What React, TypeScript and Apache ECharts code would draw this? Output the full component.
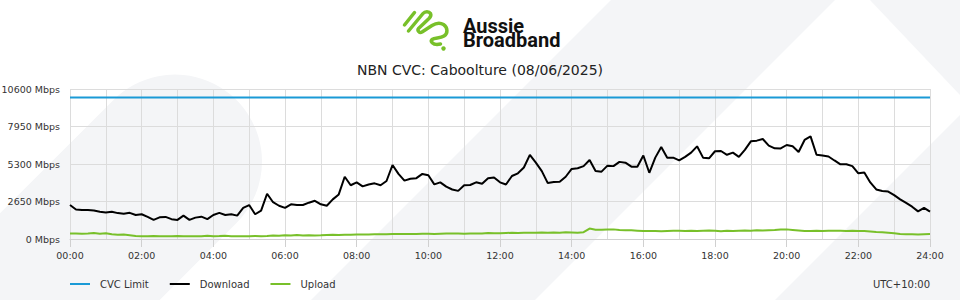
import React, { useEffect, useRef } from "react";
import * as echarts from "echarts";

// Time step between samples: 10 minutes, starting at 00:00
const STEP_MINUTES = 10;

const download: number[] = [
  2400, 2080, 2050, 2050, 2010, 1930, 1880, 1930, 1830, 1780, 1850, 1700, 1750, 1560, 1350, 1530, 1560, 1400, 1350, 1650, 1350, 1510, 1580, 1400, 1700, 1850, 1700, 1750, 1650, 2200, 2400, 1750, 2000, 3200, 2600, 2350, 2200,
  2450, 2400, 2400, 2567, 2700, 2450, 2350, 2800, 3150, 4400, 3800, 4005, 3720, 3850, 3934, 3800, 4099, 5230, 4600, 4122, 4260, 4300, 4600, 4500, 3863, 4005, 3698, 3500, 3400, 3800, 3816, 4005, 3900, 4300, 4350, 4005,
  3850, 4450, 4641, 5050, 5950, 5400, 4800, 3950, 4030, 4051, 4400, 4950, 5000, 5150, 5583, 4800, 4758, 5183, 5150, 5450, 5394, 5112, 5100, 5900, 4680, 5750, 6500, 5748, 5748, 5550, 5800, 6100, 6550, 5750, 5700, 6200,
  6219, 5950, 6100, 5800, 6300, 6900, 6950, 7067, 6600, 6407, 6400, 6643, 6550, 6150, 7000, 7250, 5950, 5900, 5830, 5550, 5277, 5277, 5150, 4641, 4700, 4000, 3500, 3392, 3350, 3100, 2800, 2550, 2285, 1950, 2200, 1932,
];

const upload: number[] = [
  390, 380, 370, 390, 420, 370, 410, 330, 300, 310, 270, 220, 200, 200, 210, 200, 200, 200, 220, 200, 200, 200, 200, 230, 200, 210, 230, 200, 200, 200, 200, 220, 200, 210, 250, 230, 260,
  250, 280, 240, 270, 250, 260, 280, 300, 290, 300, 300, 310, 310, 320, 330, 330, 340, 360, 360, 350, 360, 360, 370, 370, 360, 370, 380, 380, 380, 370, 380, 390, 390, 430, 410, 400,
  420, 440, 430, 450, 440, 450, 460, 440, 460, 450, 470, 460, 450, 480, 740, 660, 650, 670, 680, 640, 610, 620, 590, 560, 560, 570, 540, 570, 580, 590, 560, 580, 570, 590, 600, 580,
  540, 580, 570, 590, 600, 590, 610, 600, 620, 640, 670, 680, 640, 600, 560, 570, 590, 570, 590, 580, 590, 570, 580, 560, 560, 530, 500, 480, 440, 400, 350, 330, 330, 310, 340, 360,
];

const cvcLimit = 10000;
const seriesNames = ["CVC Limit", "Download", "Upload"];
const yTicks = [0, 2650, 5300, 7950, 10600];
const titleText = "NBN CVC: Caboolture (08/06/2025)";
const timezoneText = "UTC+10:00";
const brandLines = ["Aussie", "Broadband"];

const FONT = "DejaVu Sans";
const BG_GRAY = "#f4f5f7";
const GREEN = "#78c02a";

function pad(n: number) {
  return n < 10 ? "0" + n : String(n);
}

let registered = false;
function registerShapes() {
  if (registered) return;
  registered = true;
  const g: any = (echarts as any).graphic;
  g.registerShape(
    "bgLeft",
    g.extendPath(
      "M113.5,100 A87,87 0 0 1 262,161.5 A87,87 0 0 1 236.5,223 L60,400 L-187,400 Z",
      {}
    )
  );
  g.registerShape("bgBand1", g.extendPath("M611,0 L835,0 L435,400 L211,400 Z", {}));
  g.registerShape("bgBand2", g.extendPath("M1075,0 L1400,0 L1000,400 L675,400 Z", {}));
  g.registerShape("bgTopRight", g.extendPath("M870,0 L960,0 L960,95 Z", {}));
  g.registerShape(
    "abbSwirl",
    g.extendPath(
      "M404.5,25 L414.5,12.5 M408.5,31 L423,13.5 C425,11 429,11 430.5,13.5 C431.5,15.5 430.5,17 429,18.5 L418.5,28.5 C417,30.5 419.5,33.5 422,32 L432,25.5 C436,23 440,22.5 443.5,24.5 C448,27.5 448,33.5 444,36 C440,38.5 435,37.5 432,39.5 C430,41.5 433,44.5 437,44.5 L440.5,44",
      {}
    )
  );
}

export default function App() {
  const ref = useRef<HTMLDivElement>(null);

  useEffect(() => {
    if (!ref.current) return;
    registerShapes();
    const chart = echarts.init(ref.current, undefined, { renderer: "svg" });

    const dlData = download.map((v, i) => [i * STEP_MINUTES, v]);
    const ulData = upload.map((v, i) => [i * STEP_MINUTES, v]);
    const lastX = (download.length - 1) * STEP_MINUTES;
    const cvcData = [
      [0, cvcLimit],
      [lastX, cvcLimit],
    ];

    const option: any = {
      animation: false,
      backgroundColor: "#ffffff",
      textStyle: { fontFamily: FONT },
      title: {
        text: titleText,
        left: "center",
        top: 58,
        textStyle: { fontFamily: FONT, fontSize: 14, fontWeight: "normal", color: "#222" },
      },
      grid: { left: 70, right: 30, top: 89, bottom: 61, containLabel: false, outerBoundsMode: "none" },
      xAxis: {
        type: "value",
        min: 0,
        max: 1440,
        interval: 120,
        axisLine: { show: true, lineStyle: { color: "#d0d0d0", width: 1 } },
        axisTick: { show: true, length: 8, lineStyle: { color: "#d0d0d0" } },
        minorTick: { show: false, splitNumber: 2 },
        minorSplitLine: { show: true, lineStyle: { color: "#dcdcdc", width: 1 } },
        splitLine: { show: true, lineStyle: { color: "#dcdcdc", width: 1 } },
        axisLabel: {
          fontFamily: FONT,
          fontSize: 9.5,
          color: "#333",
          margin: 11,
          formatter: (v: number) => pad(Math.round(v / 60)) + ":00",
        },
      },
      yAxis: {
        type: "value",
        min: yTicks[0],
        max: yTicks[yTicks.length - 1],
        interval: yTicks[1] - yTicks[0],
        axisLine: { show: false },
        axisTick: { show: false },
        splitLine: { show: true, lineStyle: { color: "#dcdcdc", width: 1 } },
        axisLabel: {
          fontFamily: FONT,
          fontSize: 9.5,
          color: "#333",
          margin: 10,
          formatter: (v: number) => v + " Mbps",
        },
      },
      legend: {
        data: seriesNames,
        left: 70,
        top: 279,
        padding: 0,
        icon: "rect",
        itemWidth: 20,
        itemHeight: 2,
        itemGap: 21,
        textStyle: { fontFamily: FONT, fontSize: 10, color: "#333", padding: [0, 0, 0, 5] },
      },
      series: [
        {
          name: seriesNames[0],
          type: "line",
          data: cvcData,
          symbol: "none",
          lineStyle: { color: "#1a9ad6", width: 2 },
          itemStyle: { color: "#1a9ad6" },
        },
        {
          name: seriesNames[1],
          type: "line",
          data: dlData,
          symbol: "none",
          lineStyle: { color: "#000000", width: 2 },
          itemStyle: { color: "#000000" },
        },
        {
          name: seriesNames[2],
          type: "line",
          data: ulData,
          symbol: "none",
          lineStyle: { color: GREEN, width: 2 },
          itemStyle: { color: GREEN },
        },
      ],
      graphic: [
        { type: "bgLeft", z: -10, silent: true, style: { fill: BG_GRAY } },
        { type: "bgBand1", z: -10, silent: true, style: { fill: BG_GRAY } },
        { type: "bgBand2", z: -10, silent: true, style: { fill: BG_GRAY } },
        { type: "bgTopRight", z: -10, silent: true, style: { fill: BG_GRAY } },
        {
          type: "abbSwirl",
          z: 10,
          silent: true,
          style: { fill: null, stroke: GREEN, lineWidth: 3.5, lineCap: "round", lineJoin: "round" },
        },
        {
          type: "circle",
          z: 10,
          silent: true,
          shape: { cx: 443.5, cy: 48.5, r: 2.2 },
          style: { fill: GREEN },
        },
        {
          type: "text",
          z: 10,
          silent: true,
          x: 463,
          y: 18.5,
          style: {
            text: brandLines.join("\n"),
            fontFamily: "Roboto",
            fontWeight: "bold",
            fontSize: 20,
            lineHeight: 14.5,
            fill: "#111",
            verticalAlign: "top",
          },
        },
        {
          type: "text",
          z: 10,
          silent: true,
          x: 930,
          y: 284,
          style: {
            text: timezoneText,
            fontFamily: FONT,
            fontSize: 10,
            fill: "#333",
            align: "right",
            verticalAlign: "middle",
          },
        },
      ],
    };

    chart.setOption(option);
    return () => {
      chart.dispose();
    };
  }, []);

  return <div ref={ref} style={{ width: 960, height: 300, position: "absolute", left: 0, top: 0 }} />;
}
